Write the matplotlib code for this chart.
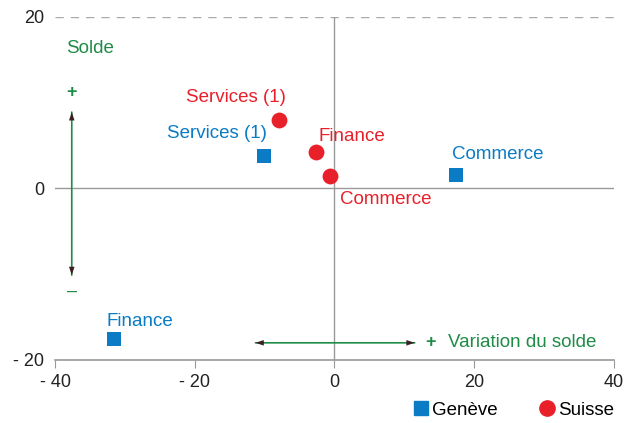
import matplotlib
matplotlib.use("Agg")
import matplotlib.pyplot as plt
from matplotlib.lines import Line2D

plt.rcParams['font.family'] = ['Liberation Sans', 'DejaVu Sans']

categories = ["Services (1)", "Commerce", "Finance"]
geneve_x = [-10.1, 17.4, -31.6]
geneve_y = [3.8, 1.6, -17.6]
suisse_x = [-7.9, -0.6, -2.6]
suisse_y = [8.0, 1.4, 4.2]
xticks = [-40, -20, 0, 20, 40]
xtick_labels = ["- 40", "- 20", "0", "20", "40"]
yticks = [-20, 0, 20]
ytick_labels = ["- 20", "0", "20"]

BLUE = "#0a7bc4"
RED = "#e8202a"
GREEN = "#1e8c46"
GRAY = "#999999"
HEAD = "#3b1f24"

fig = plt.figure(figsize=(6.25, 4.23), dpi=100)
ax = fig.add_axes([0.088, 0.149, 0.894, 0.811])
ax.set_xlim(-40, 40)
ax.set_ylim(-20, 20)

for s in ["left", "right", "top"]:
    ax.spines[s].set_visible(False)
ax.spines["bottom"].set_color(GRAY)
ax.spines["bottom"].set_linewidth(1.2)
ax.axhline(20, color="#aaaaaa", lw=1, ls=(0, (6, 5)))
ax.axhline(0, color=GRAY, lw=1)
ax.axvline(0, color=GRAY, lw=1)

ax.set_xticks(xticks)
ax.set_xticklabels(xtick_labels)
ax.set_yticks(yticks)
ax.set_yticklabels(ytick_labels)
ax.tick_params(axis="x", direction="out", length=6, color=GRAY, labelsize=13, pad=4, labelcolor="#222222")
ax.tick_params(axis="y", length=0, labelsize=13, pad=8, labelcolor="#222222")

ax.scatter(geneve_x, geneve_y, marker="s", s=110, color=BLUE, zorder=3, linewidths=0)
ax.scatter(suisse_x, suisse_y, marker="o", s=130, color=RED, zorder=3, linewidths=0)

fs = 13.5
# Geneve labels
ax.text(geneve_x[0] + 0.4, geneve_y[0] + 2.6, categories[0], color=BLUE, fontsize=fs, ha="right", va="center")
ax.text(geneve_x[1] - 0.6, geneve_y[1] + 2.3, categories[1], color=BLUE, fontsize=fs, ha="left", va="center")
ax.text(geneve_x[2] - 1.0, geneve_y[2] + 2.1, categories[2], color=BLUE, fontsize=fs, ha="left", va="center")
# Suisse labels
ax.text(suisse_x[0] + 1.0, suisse_y[0] + 2.6, categories[0], color=RED, fontsize=fs, ha="right", va="center")
ax.text(suisse_x[1] + 1.4, suisse_y[1] - 2.7, categories[1], color=RED, fontsize=fs, ha="left", va="center")
ax.text(suisse_x[2] + 0.3, suisse_y[2] + 1.9, categories[2], color=RED, fontsize=fs, ha="left", va="center")

# Annotation arrows: green shafts with dark heads
def double_arrow(p0, p1):
    ax.annotate("", xy=p1, xytext=p0,
                arrowprops=dict(arrowstyle="-", color=GREEN, lw=1.2, shrinkA=0, shrinkB=0))
    for a, b in ((p0, p1), (p1, p0)):
        ax.annotate("", xy=a, xytext=b,
                    arrowprops=dict(arrowstyle="-|>,head_length=0.6,head_width=0.2", color=HEAD,
                                    lw=0, shrinkA=0, shrinkB=0))

double_arrow((-37.6, -10.1), (-37.6, 8.9))
double_arrow((-11.3, -18.0), (11.5, -18.0))

ax.text(-38.4, 16.3, "Solde", color=GREEN, fontsize=fs, ha="left", va="center")
ax.text(-37.6, 11.2, "+", color=GREEN, fontsize=13, ha="center", va="center", fontweight="bold")
ax.text(-37.6, -12.0, "–", color=GREEN, fontsize=13, ha="center", va="center")
ax.text(13.7, -18.0, "+", color=GREEN, fontsize=13, ha="center", va="center", fontweight="bold")
ax.text(16.2, -18.0, "Variation du solde", color=GREEN, fontsize=fs, ha="left", va="center")

handles = [Line2D([], [], marker="s", ls="", color=BLUE, markersize=10, label="Genève"),
           Line2D([], [], marker="o", ls="", color=RED, markersize=11, label="Suisse")]
fig.legend(handles=handles, loc="lower right", bbox_to_anchor=(1.01, -0.03), ncol=2, frameon=False,
           fontsize=13.5, handletextpad=0.15, columnspacing=2.2, handlelength=0.9)

fig.savefig("out.png", dpi=100)
